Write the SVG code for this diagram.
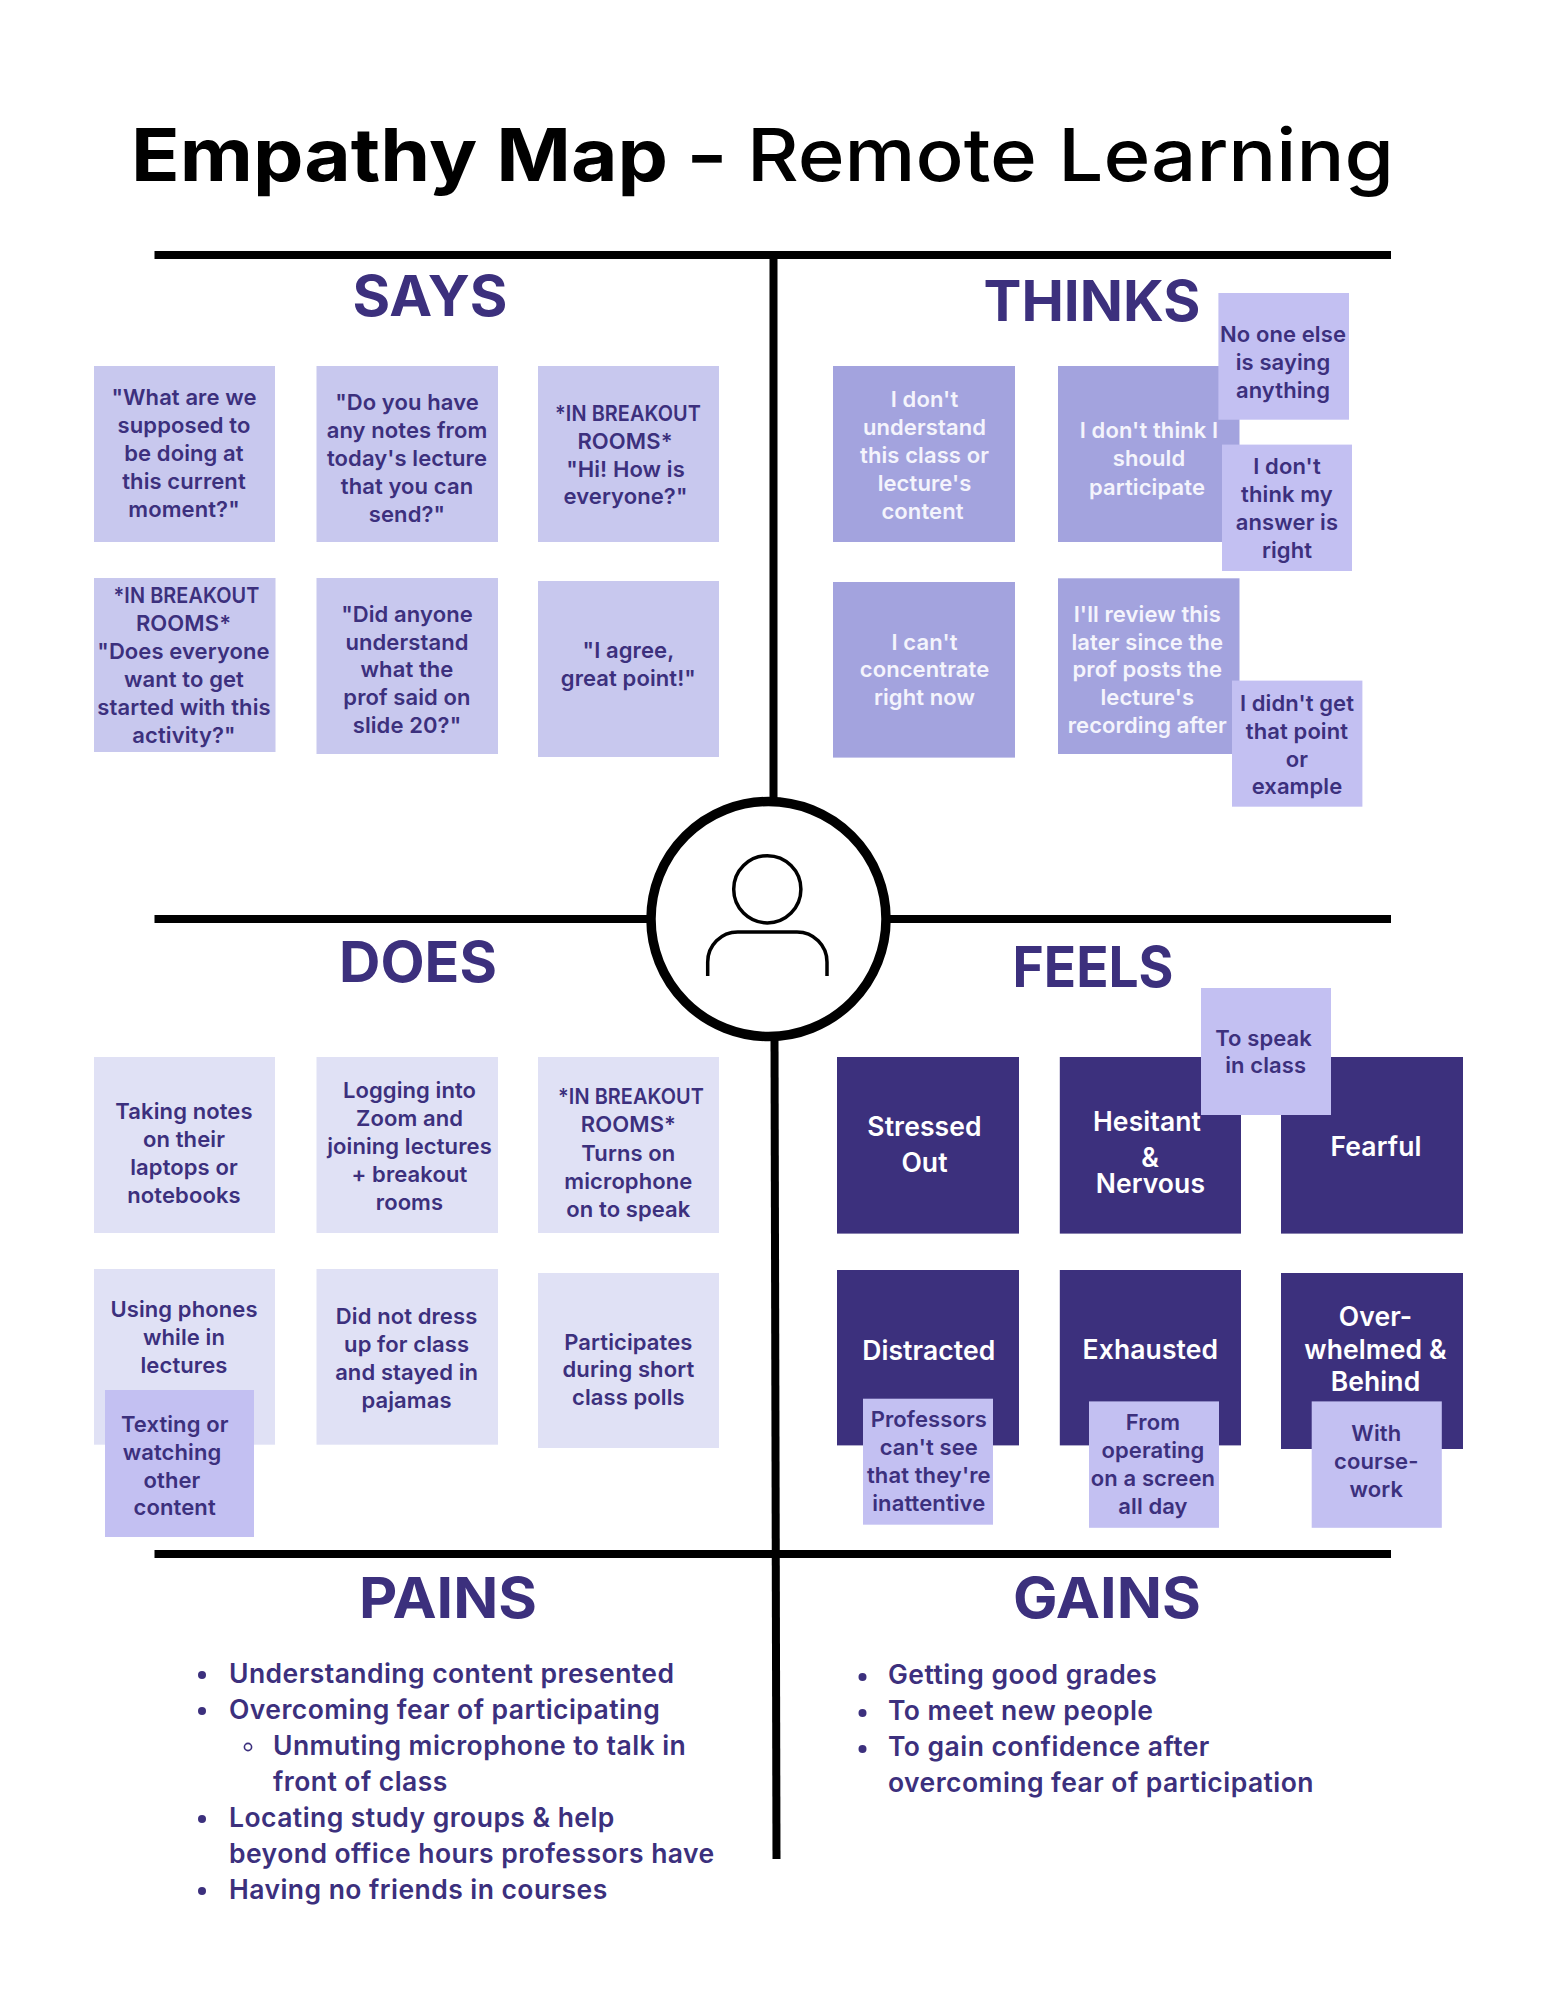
<svg xmlns="http://www.w3.org/2000/svg" width="1545" height="2000" viewBox="0 0 1545 2000">
<style>
text{font-family:"Inter","Liberation Sans",sans-serif;text-anchor:middle}
.t{font-size:22px;font-weight:600;fill:#3c307d;letter-spacing:.1px}
.w{font-size:22px;font-weight:600;fill:#f4f4fc;letter-spacing:.1px}
.b{font-size:26.5px;font-weight:600;fill:#fff;letter-spacing:.1px}
.h{font-size:56.5px;font-weight:700;fill:#3c307d}
.l{font-size:26.5px;font-weight:600;fill:#3c307d;text-anchor:start;letter-spacing:.45px}
.title{font-size:73px;fill:#000;text-anchor:start}
.says{fill:#c8c8ee}.thinks{fill:#a3a3de}.does{fill:#e0e1f5}.feels{fill:#3c307d}.note{fill:#c3c0f2}
.rule{stroke:#000;stroke-width:8;fill:none}
.dot{fill:#3c307d}
</style>
<rect width="1545" height="2000" fill="#fff"/>
<g id="title">
<text class="title" x="131" y="180.7" font-weight="700" textLength="537" lengthAdjust="spacingAndGlyphs">Empathy Map</text>
<text class="title" x="686" y="180.7" font-weight="600" textLength="42" lengthAdjust="spacingAndGlyphs">-</text>
<text class="title" x="747" y="180.7" font-weight="500" textLength="647" lengthAdjust="spacingAndGlyphs">Remote Learning</text>
</g>
<g id="connectors">
<line class="rule" x1="154.5" y1="255" x2="1391" y2="255"/>
<line class="rule" x1="773.5" y1="259" x2="773.5" y2="800"/>
<line class="rule" x1="154.5" y1="919" x2="650" y2="919"/>
<line class="rule" x1="888" y1="919" x2="1391" y2="919"/>
<line class="rule" x1="774.5" y1="1038" x2="776.5" y2="1859"/>
<line class="rule" x1="154.5" y1="1554" x2="1391" y2="1554"/>
</g>
<g id="persona">
<circle cx="768.5" cy="919" r="117.5" fill="#fff" stroke="#000" stroke-width="9.5"/>
<circle cx="767.3" cy="889.3" r="33.6" fill="none" stroke="#000" stroke-width="3.5"/>
<path d="M707.7 976V962a30 30 0 0 1 30-30H797a30 30 0 0 1 30 30V976" fill="none" stroke="#000" stroke-width="3.5"/>
</g>
<g id="headers">
<text class="h" x="430" y="315.7" textLength="155" lengthAdjust="spacingAndGlyphs">SAYS</text>
<text class="h" x="1092" y="321" textLength="217" lengthAdjust="spacingAndGlyphs">THINKS</text>
<text class="h" x="418" y="982.3" textLength="158" lengthAdjust="spacingAndGlyphs">DOES</text>
<text class="h" x="1093" y="986.8" textLength="161" lengthAdjust="spacingAndGlyphs">FEELS</text>
<text class="h" x="448" y="1617.7" textLength="178" lengthAdjust="spacingAndGlyphs">PAINS</text>
<text class="h" x="1107" y="1617.7" textLength="188" lengthAdjust="spacingAndGlyphs">GAINS</text>
</g>
<g id="says-1"><rect class="says" x="94" y="366" width="181" height="176"/>
<text class="t" x="184" y="405">"What are we</text><text class="t" x="184" y="433">supposed to</text><text class="t" x="184" y="461">be doing at</text><text class="t" x="184" y="489">this current</text><text class="t" x="184" y="517">moment?"</text></g>
<g id="says-2"><rect class="says" x="316.5" y="366" width="181.5" height="176"/>
<text class="t" x="407" y="410">"Do you have</text><text class="t" x="407" y="438">any notes from</text><text class="t" x="407" y="466">today's lecture</text><text class="t" x="407" y="494">that you can</text><text class="t" x="407" y="522">send?"</text></g>
<g id="says-3"><rect class="says" x="538" y="366" width="181" height="176"/>
<text class="t" x="628" y="420.7" textLength="146" lengthAdjust="spacingAndGlyphs">*IN BREAKOUT</text><text class="t" x="625" y="448.7">ROOMS*</text><text class="t" x="625.5" y="476.7">"Hi! How is</text><text class="t" x="625.5" y="504">everyone?"</text></g>
<g id="says-4"><rect class="says" x="94" y="578" width="181.5" height="174"/>
<text class="t" x="186.5" y="602.7" textLength="146" lengthAdjust="spacingAndGlyphs">*IN BREAKOUT</text><text class="t" x="183.5" y="630.7">ROOMS*</text><text class="t" x="183.5" y="658.7">"Does everyone</text><text class="t" x="184" y="686.7">want to get</text><text class="t" x="184" y="714.7">started with this</text><text class="t" x="184" y="742.7">activity?"</text></g>
<g id="says-5"><rect class="says" x="316.5" y="578" width="181.5" height="176"/>
<text class="t" x="407" y="622">"Did anyone</text><text class="t" x="407" y="650">understand</text><text class="t" x="407" y="677">what the</text><text class="t" x="407" y="705">prof said on</text><text class="t" x="407" y="733">slide 20?"</text></g>
<g id="says-6"><rect class="says" x="538" y="581" width="181" height="176"/>
<text class="t" x="628.4" y="658.3">"I agree,</text><text class="t" x="628.4" y="686">great point!"</text></g>
<g id="thinks-1"><rect class="thinks" x="833" y="366" width="182" height="176"/>
<text class="w" x="924.5" y="407">I don't</text><text class="w" x="924.5" y="435.4">understand</text><text class="w" x="924.5" y="463.4">this class or</text><text class="w" x="924.5" y="491.3">lecture's</text><text class="w" x="922.5" y="519.3">content</text></g>
<g id="thinks-2"><rect class="thinks" x="1058" y="366" width="181.5" height="176"/>
<text class="w" x="1149" y="438">I don't think I</text><text class="w" x="1149" y="466.4">should</text><text class="w" x="1147" y="494.8">participate</text></g>
<g id="thinks-3"><rect class="thinks" x="833" y="582" width="182" height="175.6"/>
<text class="w" x="924.5" y="649.6">I can't</text><text class="w" x="924.5" y="676.8">concentrate</text><text class="w" x="924.5" y="704.8">right now</text></g>
<g id="thinks-4"><rect class="thinks" x="1058" y="578.3" width="181.5" height="175.7"/>
<text class="w" x="1147.3" y="621.6">I'll review this</text><text class="w" x="1147.3" y="650">later since the</text><text class="w" x="1147.3" y="677">prof posts the</text><text class="w" x="1147.3" y="704.8">lecture's</text><text class="w" x="1147.3" y="732.7">recording after</text></g>
<g id="thinks-note-1"><rect class="note" x="1218.4" y="293" width="130.6" height="126.7"/>
<text class="t" x="1283" y="341.5">No one else</text><text class="t" x="1283" y="369.9">is saying</text><text class="t" x="1283" y="397.9">anything</text></g>
<g id="thinks-note-2"><rect class="note" x="1222" y="444.6" width="130" height="126.4"/>
<text class="t" x="1287" y="473.7">I don't</text><text class="t" x="1287" y="502">think my</text><text class="t" x="1287" y="529.7">answer is</text><text class="t" x="1287" y="557.6">right</text></g>
<g id="thinks-note-3"><rect class="note" x="1232" y="680.6" width="130.4" height="126.1"/>
<text class="t" x="1297" y="710.5">I didn't get</text><text class="t" x="1297" y="738.9">that point</text><text class="t" x="1297" y="767">or</text><text class="t" x="1297" y="794.4">example</text></g>
<g id="does-1"><rect class="does" x="94" y="1057" width="181" height="176"/>
<text class="t" x="184" y="1118.7">Taking notes</text><text class="t" x="184" y="1146.7">on their</text><text class="t" x="184" y="1174.7">laptops or</text><text class="t" x="184" y="1202.7">notebooks</text></g>
<g id="does-2"><rect class="does" x="316.5" y="1057" width="181.5" height="176"/>
<text class="t" x="409.5" y="1098">Logging into</text><text class="t" x="409.5" y="1126">Zoom and</text><text class="t" x="409.5" y="1154">joining lectures</text><text class="t" x="409.5" y="1181.7">+ breakout</text><text class="t" x="409.5" y="1210">rooms</text></g>
<g id="does-3"><rect class="does" x="538" y="1057" width="181" height="176"/>
<text class="t" x="631" y="1104.3" textLength="146" lengthAdjust="spacingAndGlyphs">*IN BREAKOUT</text><text class="t" x="628.4" y="1132.3">ROOMS*</text><text class="t" x="628.4" y="1160.7">Turns on</text><text class="t" x="628.4" y="1188.7">microphone</text><text class="t" x="628.4" y="1216.7">on to speak</text></g>
<g id="does-4"><rect class="does" x="94" y="1269" width="181" height="175.7"/>
<text class="t" x="184" y="1316.7">Using phones</text><text class="t" x="184" y="1344.7">while in</text><text class="t" x="184" y="1372.7">lectures</text></g>
<g id="does-5"><rect class="does" x="316.5" y="1269" width="181.5" height="175.7"/>
<text class="t" x="406.6" y="1324">Did not dress</text><text class="t" x="406.6" y="1352">up for class</text><text class="t" x="406.6" y="1380">and stayed in</text><text class="t" x="406.6" y="1408">pajamas</text></g>
<g id="does-6"><rect class="does" x="538" y="1273" width="181" height="175"/>
<text class="t" x="628.4" y="1350">Participates</text><text class="t" x="628.4" y="1377.3">during short</text><text class="t" x="628.4" y="1405.3">class polls</text></g>
<g id="does-note"><rect class="note" x="105" y="1390" width="149" height="147"/>
<text class="t" x="174.7" y="1431.7">Texting or</text><text class="t" x="172" y="1460">watching</text><text class="t" x="172" y="1488">other</text><text class="t" x="174.7" y="1515">content</text></g>
<g id="feels-1"><rect class="feels" x="837" y="1057" width="182" height="176.6"/>
<text class="b" x="924.5" y="1136">Stressed</text><text class="b" x="924.5" y="1172">Out</text></g>
<g id="feels-2"><rect class="feels" x="1059.8" y="1057" width="181.2" height="176.6"/>
<text class="b" x="1147" y="1131">Hesitant</text><text class="b" x="1150" y="1167.3">&amp;</text><text class="b" x="1150.4" y="1193">Nervous</text></g>
<g id="feels-3"><rect class="feels" x="1281" y="1057" width="182" height="176.6"/>
<text class="b" x="1376" y="1156">Fearful</text></g>
<g id="feels-4"><rect class="feels" x="837" y="1270" width="182" height="175.4"/>
<text class="b" x="928.8" y="1360.4">Distracted</text></g>
<g id="feels-5"><rect class="feels" x="1059.8" y="1270" width="181.2" height="175.4"/>
<text class="b" x="1150.4" y="1358.5">Exhausted</text></g>
<g id="feels-6"><rect class="feels" x="1281" y="1273" width="182" height="176"/>
<text class="b" x="1375.5" y="1326">Over-</text><text class="b" x="1375.5" y="1358.5">whelmed &amp;</text><text class="b" x="1375.5" y="1390.6">Behind</text></g>
<g id="feels-note-1"><rect class="note" x="1201" y="988" width="130" height="127"/>
<text class="t" x="1263.6" y="1045.8">To speak</text><text class="t" x="1265.7" y="1073.4">in class</text></g>
<g id="feels-note-2"><rect class="note" x="863" y="1398.7" width="130" height="126"/>
<text class="t" x="928.8" y="1427">Professors</text><text class="t" x="928.8" y="1455">can't see</text><text class="t" x="928.8" y="1483">that they're</text><text class="t" x="928.8" y="1511">inattentive</text></g>
<g id="feels-note-3"><rect class="note" x="1089" y="1401.4" width="130" height="126.4"/>
<text class="t" x="1153" y="1430">From</text><text class="t" x="1153" y="1458">operating</text><text class="t" x="1153" y="1486">on a screen</text><text class="t" x="1153" y="1514">all day</text></g>
<g id="feels-note-4"><rect class="note" x="1311.7" y="1401.4" width="130.1" height="126.4"/>
<text class="t" x="1376.3" y="1440.8">With</text><text class="t" x="1376.3" y="1469">course-</text><text class="t" x="1376.3" y="1497">work</text></g>
<g id="pains">
<circle class="dot" cx="202" cy="1675" r="4"/><circle class="dot" cx="202" cy="1711" r="4"/><circle cx="248" cy="1747" r="3.6" fill="none" stroke="#3c307d" stroke-width="1.6"/><circle class="dot" cx="202" cy="1819" r="4"/><circle class="dot" cx="202" cy="1891" r="4"/>
<text class="l" x="229" y="1682.7">Understanding content presented</text>
<text class="l" x="229" y="1719">Overcoming fear of participating</text>
<text class="l" x="273" y="1755">Unmuting microphone to talk in</text>
<text class="l" x="273" y="1791">front of class</text>
<text class="l" x="229" y="1827">Locating study groups &amp; help</text>
<text class="l" x="229" y="1863">beyond office hours professors have</text>
<text class="l" x="229" y="1899">Having no friends in courses</text>
</g>
<g id="gains">
<circle class="dot" cx="862.5" cy="1677" r="4"/><circle class="dot" cx="862.5" cy="1713" r="4"/><circle class="dot" cx="862.5" cy="1749" r="4"/>
<text class="l" x="888" y="1684.3">Getting good grades</text>
<text class="l" x="888" y="1720.3">To meet new people</text>
<text class="l" x="888" y="1756.3">To gain confidence after</text>
<text class="l" x="888" y="1792.3">overcoming fear of participation</text>
</g>
</svg>
